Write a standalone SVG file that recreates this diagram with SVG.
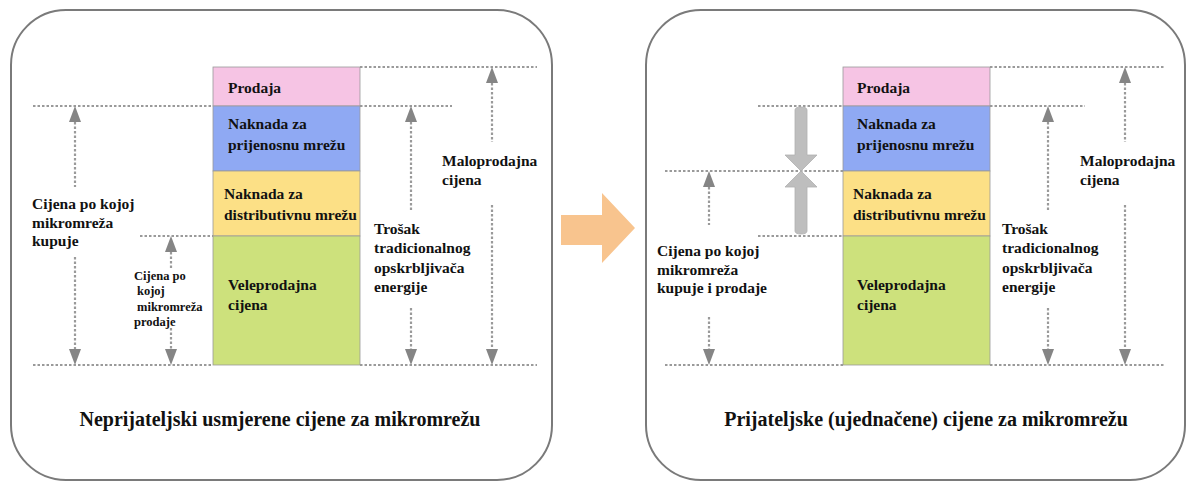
<svg xmlns="http://www.w3.org/2000/svg" width="1187" height="482" viewBox="0 0 1187 482" font-family="'Liberation Serif', 'Times New Roman', 'DejaVu Serif', serif" font-weight="bold">
<defs>
<style>
text{font-family:'Liberation Serif','Times New Roman','DejaVu Serif',serif;font-weight:700;fill:#111;}
.t{font-size:15.5px;}
.s{font-size:12.5px;}
.cap{font-size:20px;}
.panel{fill:#fff;stroke:#7a7a7a;stroke-width:2;}
.dot{stroke:#9a9a9a;stroke-width:2;stroke-dasharray:2.5 2;fill:none;}
.vd{stroke:#9a9a9a;stroke-width:2.2;stroke-dasharray:2.5 2;fill:none;}
.hd{fill:#858585;}
.seg{stroke:#9a9a9a;stroke-width:0.8;}
</style>
</defs>
<rect x="0" y="0" width="1187" height="482" fill="#fff"/>

<g id="panel-left">
<rect class="panel" x="11" y="10" width="541" height="470" rx="55" ry="55"/>
</g>
<g id="panel-right">
<rect class="panel" x="646" y="10" width="539" height="470" rx="55" ry="55"/>
</g>

<g id="transition-arrow">
<polygon points="561,215 602,215 602,193 635,228 602,263 602,245 561,245" fill="#F8C48E"/>
</g>

<g id="connectors">
<line class="dot" x1="33" y1="106" x2="213" y2="106"/>
<line class="dot" x1="360" y1="106" x2="452" y2="106"/>
<line class="dot" x1="360" y1="67" x2="537" y2="67"/>
<line class="dot" x1="140" y1="236" x2="213" y2="236"/>
<line class="dot" x1="33" y1="365" x2="213" y2="365"/>
<line class="dot" x1="360" y1="365" x2="537" y2="365"/>
<line class="dot" x1="758" y1="106" x2="843" y2="106"/>
<line class="dot" x1="990" y1="106" x2="1085" y2="106"/>
<line class="dot" x1="990" y1="67" x2="1165" y2="67"/>
<line class="dot" x1="665" y1="171" x2="843" y2="171"/>
<line class="dot" x1="758" y1="236" x2="843" y2="236"/>
<line class="dot" x1="665" y1="365" x2="843" y2="365"/>
<line class="dot" x1="990" y1="365" x2="1165" y2="365"/>

<line class="vd" x1="75" y1="122" x2="75" y2="187"/>
<line class="vd" x1="75" y1="257" x2="75" y2="349"/>
<polygon class="hd" points="75,106 69,122 81,122"/>
<polygon class="hd" points="75,365 69,349 81,349"/>

<line class="vd" x1="171" y1="252" x2="171" y2="268"/>
<line class="vd" x1="171" y1="328" x2="171" y2="349"/>
<polygon class="hd" points="171,236 165,252 177,252"/>
<polygon class="hd" points="171,365 165,349 177,349"/>

<line class="vd" x1="411" y1="122" x2="411" y2="212"/>
<line class="vd" x1="411" y1="308" x2="411" y2="349"/>
<polygon class="hd" points="411,106 405,122 417,122"/>
<polygon class="hd" points="411,365 405,349 417,349"/>

<line class="vd" x1="492" y1="83" x2="492" y2="142"/>
<line class="vd" x1="492" y1="205" x2="492" y2="349"/>
<polygon class="hd" points="492,67 486,83 498,83"/>
<polygon class="hd" points="492,365 486,349 498,349"/>

<line class="vd" x1="709" y1="187" x2="709" y2="225"/>
<line class="vd" x1="709" y1="317" x2="709" y2="349"/>
<polygon class="hd" points="709,171 703,187 715,187"/>
<polygon class="hd" points="709,365 703,349 715,349"/>

<line class="vd" x1="1048" y1="122" x2="1048" y2="212"/>
<line class="vd" x1="1048" y1="308" x2="1048" y2="349"/>
<polygon class="hd" points="1048,106 1042,122 1054,122"/>
<polygon class="hd" points="1048,365 1042,349 1054,349"/>

<line class="vd" x1="1125" y1="83" x2="1125" y2="142"/>
<line class="vd" x1="1125" y1="205" x2="1125" y2="349"/>
<polygon class="hd" points="1125,67 1119,83 1131,83"/>
<polygon class="hd" points="1125,365 1119,349 1131,349"/>

<path d="M795,110 Q795,107 801,107 Q807,107 807,110 L807,155 L817,155 L801,171 L785,155 L795,155 Z" fill="#BEBEBE" stroke="#B0B0B0" stroke-width="0.8"/>
<path d="M801,171 L817,187 L807,187 L807,231 Q807,234 801,234 Q795,234 795,231 L795,187 L785,187 Z" fill="#BEBEBE" stroke="#B0B0B0" stroke-width="0.8"/>
</g>

<g id="bar-left">
<rect x="213" y="67" width="147" height="39" fill="#F6C4E4" class="seg"/>
<rect x="213" y="106" width="147" height="65" fill="#8FA9F3" class="seg"/>
<rect x="213" y="171" width="147" height="65" fill="#FCE086" class="seg"/>
<rect x="213" y="236" width="147" height="129" fill="#CDE17C" class="seg"/>
<text class="t" x="228" y="93">Prodaja</text>
<text class="t" x="228" y="129">Naknada za</text>
<text class="t" x="228" y="150">prijenosnu mrežu</text>
<text class="t" x="224" y="199">Naknada za</text>
<text class="t" x="224" y="220">distributivnu mrežu</text>
<text class="t" x="228" y="290">Veleprodajna</text>
<text class="t" x="228" y="310">cijena</text>
</g>

<g id="bar-right">
<rect x="843" y="67" width="147" height="39" fill="#F6C4E4" class="seg"/>
<rect x="843" y="106" width="147" height="65" fill="#8FA9F3" class="seg"/>
<rect x="843" y="171" width="147" height="65" fill="#FCE086" class="seg"/>
<rect x="843" y="236" width="147" height="129" fill="#CDE17C" class="seg"/>
<text class="t" x="857" y="93">Prodaja</text>
<text class="t" x="857" y="129">Naknada za</text>
<text class="t" x="857" y="150">prijenosnu mrežu</text>
<text class="t" x="853" y="199">Naknada za</text>
<text class="t" x="853" y="220">distributivnu mrežu</text>
<text class="t" x="857" y="290">Veleprodajna</text>
<text class="t" x="857" y="310">cijena</text>
</g>

<g id="label-buy-left">
<text class="t" x="32" y="209">Cijena po kojoj</text>
<text class="t" x="32" y="228">mikromreža</text>
<text class="t" x="32" y="246">kupuje</text>
</g>
<g id="label-sell-left">
<text class="s" x="134" y="280">Cijena po</text>
<text class="s" x="137" y="295">kojoj</text>
<text class="s" x="137" y="311">mikromreža</text>
<text class="s" x="134" y="326">prodaje</text>
</g>
<g id="label-cost-left">
<text class="t" x="374" y="234">Trošak</text>
<text class="t" x="374" y="253">tradicionalnog</text>
<text class="t" x="374" y="273">opskrbljivača</text>
<text class="t" x="374" y="292">energije</text>
</g>
<g id="label-retail-left">
<text class="t" x="442" y="166">Maloprodajna</text>
<text class="t" x="442" y="185">cijena</text>
</g>

<g id="label-buysell-right">
<text class="t" x="657" y="256">Cijena po kojoj</text>
<text class="t" x="657" y="275">mikromreža</text>
<text class="t" x="657" y="293">kupuje i prodaje</text>
</g>
<g id="label-cost-right">
<text class="t" x="1002" y="234">Trošak</text>
<text class="t" x="1002" y="253">tradicionalnog</text>
<text class="t" x="1002" y="273">opskrbljivača</text>
<text class="t" x="1002" y="292">energije</text>
</g>
<g id="label-retail-right">
<text class="t" x="1080" y="166">Maloprodajna</text>
<text class="t" x="1080" y="185">cijena</text>
</g>

<g id="caption-left">
<text class="cap" x="280" y="426" text-anchor="middle">Neprijateljski usmjerene cijene za mikromrežu</text>
</g>
<g id="caption-right">
<text class="cap" x="926" y="426" text-anchor="middle">Prijateljske (ujednačene) cijene za mikromrežu</text>
</g>
</svg>
